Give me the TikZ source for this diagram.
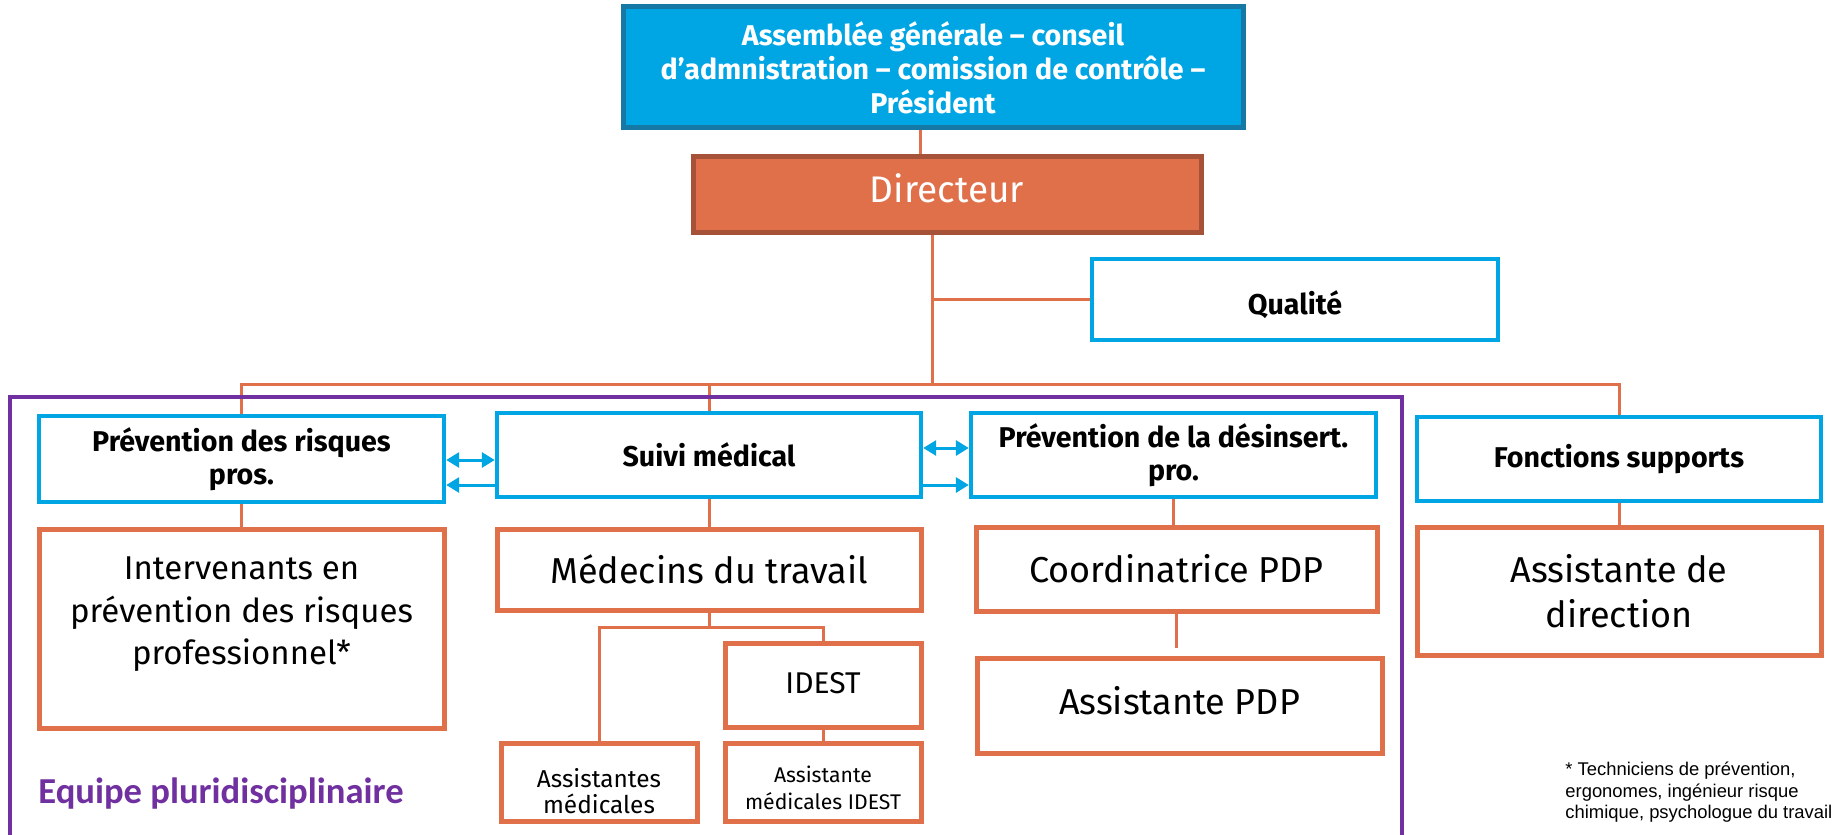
\documentclass[tikz,border=0pt]{standalone}
\usepackage{fontspec}
\setmainfont{Fira Sans}
\newfontfamily\notefont{Liberation Sans}
\newfontfamily\eqfont{Carlito}
\usetikzlibrary{arrows.meta}
\definecolor{cblue}{RGB}{0,165,227}
\definecolor{cdblue}{RGB}{22,120,165}
\definecolor{corange}{RGB}{224,112,74}
\definecolor{cdorange}{RGB}{165,82,56}
\definecolor{cpurple}{RGB}{112,48,160}
% #1 style, #2 name, #3-#6 box corners (px), #7 text shift down (pt), #8 text
\newcommand{\bx}[8]{%
  \node[#1, minimum width={(#5-#3)*0.5pt}, minimum height={(#6-#4)*0.5pt}] (#2) at ({(#3+#5)/2},{(#4+#6)/2}) {};
  \node[#1, draw=none, fill=none, yshift={-(#7)*1pt}] (#2-t) at (#2.center) {#8};}
\tikzset{
  basebox/.style={align=center, inner sep=0pt},
  topbox/.style={basebox, line width=2.5pt, draw=cdblue, fill=cblue, text=white, font=\bfseries\fontsize{14.3}{17}\selectfont},
  dirbox/.style={basebox, line width=2.5pt, draw=cdorange, fill=corange, text=white, font=\fontsize{18.5}{22}\selectfont},
  bluebox/.style={basebox, line width=2.2pt, draw=cblue, fill=white, font=\bfseries\fontsize{14.3}{16.5}\selectfont},
  orbox/.style={basebox, line width=2.5pt, draw=corange, fill=white, font=\fontsize{18}{22.5}\selectfont},
  conn/.style={draw=corange, line width=1.5pt},
  barrow/.style={draw=cblue, line width=1.5pt},
  tip/.tip={Triangle[length=6.5pt,width=7.5pt]},
}
\begin{document}
\begin{tikzpicture}[x=0.5pt,y=-0.5pt]
\useasboundingbox (0,0) rectangle (1839,834);
\fill[white] (0,0) rectangle (1839,834);
% boxes
\bx{topbox}{top}{623}{7}{1243}{128}{0}{Assemblée générale – conseil\\d’admnistration – comission de contrôle –\\Président}
\bx{dirbox}{dir}{693}{157}{1201}{232}{-3.2}{Directeur}
\bx{bluebox}{qual}{1092}{259}{1498}{340}{2.5}{Qualité}
\bx{bluebox}{prev}{39}{416}{444}{502}{0}{Prévention des risques\\pros.}
\bx{bluebox}{suivi}{497}{413}{921}{497}{0}{Suivi médical}
\bx{bluebox}{desins}{971}{413}{1376}{497}{0}{Prévention de la désinsert.\\pro.}
\bx{bluebox}{fonc}{1417}{417}{1821}{501}{0}{Fonctions supports}
\bx{orbox,font=\fontsize{16.5}{21.3}\selectfont}{interv}{39}{529}{444}{728}{-7}{Intervenants en\\prévention des risques\\professionnel*}
\bx{orbox}{med}{497}{529}{921}{610}{0}{Médecins du travail}
\bx{orbox,font=\fontsize{15}{17}\selectfont}{idest}{725}{643}{921}{727}{-1}{IDEST}
\bx{orbox,font=\fontsize{12.2}{13}\selectfont}{asmed}{501}{743}{697}{821}{4.5}{Assistantes\\médicales}
\bx{orbox,font=\fontsize{10.6}{13.5}\selectfont}{asidest}{725}{743}{921}{821}{3}{Assistante\\médicales IDEST}
\bx{orbox}{coord}{976}{527}{1377}{611}{0}{Coordinatrice PDP}
\bx{orbox}{apdp}{977}{658}{1382}{753}{-2.5}{Assistante PDP}
\bx{orbox}{adir}{1417}{527}{1821}{655}{0}{Assistante de\\direction}
% connectors
\coordinate (tx) at (920,0);
\coordinate (bus) at (932,384);
\coordinate (fork) at (0,627);
\draw[conn] (top.south -| tx) -- (dir.north -| tx);
\draw[conn] (dir.south -| bus) -- (bus);
\draw[conn] (qual.west) -- (qual.west -| bus);
\draw[conn] (prev.north) -- (prev.north |- bus) -- (fonc.north |- bus) -- (fonc.north);
\draw[conn] (suivi.north) -- (suivi.north |- bus);
\draw[conn] (prev.south) -- (interv.north);
\draw[conn] (suivi.south) -- (suivi.south |- med.north);
\draw[conn] (med.south) -- (med.south |- fork);
\draw[conn] (asmed.north) -- (asmed.north |- fork) -- (idest.north |- fork) -- (idest.north);
\draw[conn] (idest.south) -- (asidest.north);
\draw[conn] (desins.south) -- (desins.south |- coord.north);
\draw[conn] (coord.south) -- ([yshift=4pt]coord.south |- apdp.north);
\draw[conn] (fonc.south) -- (fonc.south |- adir.north);
% arrows
\coordinate (ya) at (0,460);
\coordinate (yb) at (0,485);
\coordinate (yc) at (0,448);
\coordinate (yd) at (0,485);
\draw[barrow,tip-tip] (prev.east |- ya) -- (suivi.west |- ya);
\draw[barrow,-tip] (suivi.west |- yb) -- (prev.east |- yb);
\draw[barrow,tip-tip] (suivi.east |- yc) -- (desins.west |- yc);
\draw[barrow,-tip] (suivi.east |- yd) -- (desins.west |- yd);
% team frame
\draw[cpurple, line width=2pt] (10,850) -- (10,397) -- (1402,397) -- (1402,850);
\node[anchor=base west, text=cpurple, font=\eqfont\bfseries\fontsize{18.3}{20}\selectfont, inner sep=0pt] (eq) at (38,803) {Equipe pluridisciplinaire};
\tikzset{notestyle/.style={anchor=base west, inner sep=0pt, font=\notefont\fontsize{9.2}{11}\selectfont}}
\node[notestyle] (note1) at (1565,775) {* Techniciens de prévention,};
\node[notestyle] (note2) at (1565,797) {ergonomes, ingénieur risque};
\node[notestyle] (note3) at (1565,818) {chimique, psychologue du travail};
\end{tikzpicture}
\end{document}
